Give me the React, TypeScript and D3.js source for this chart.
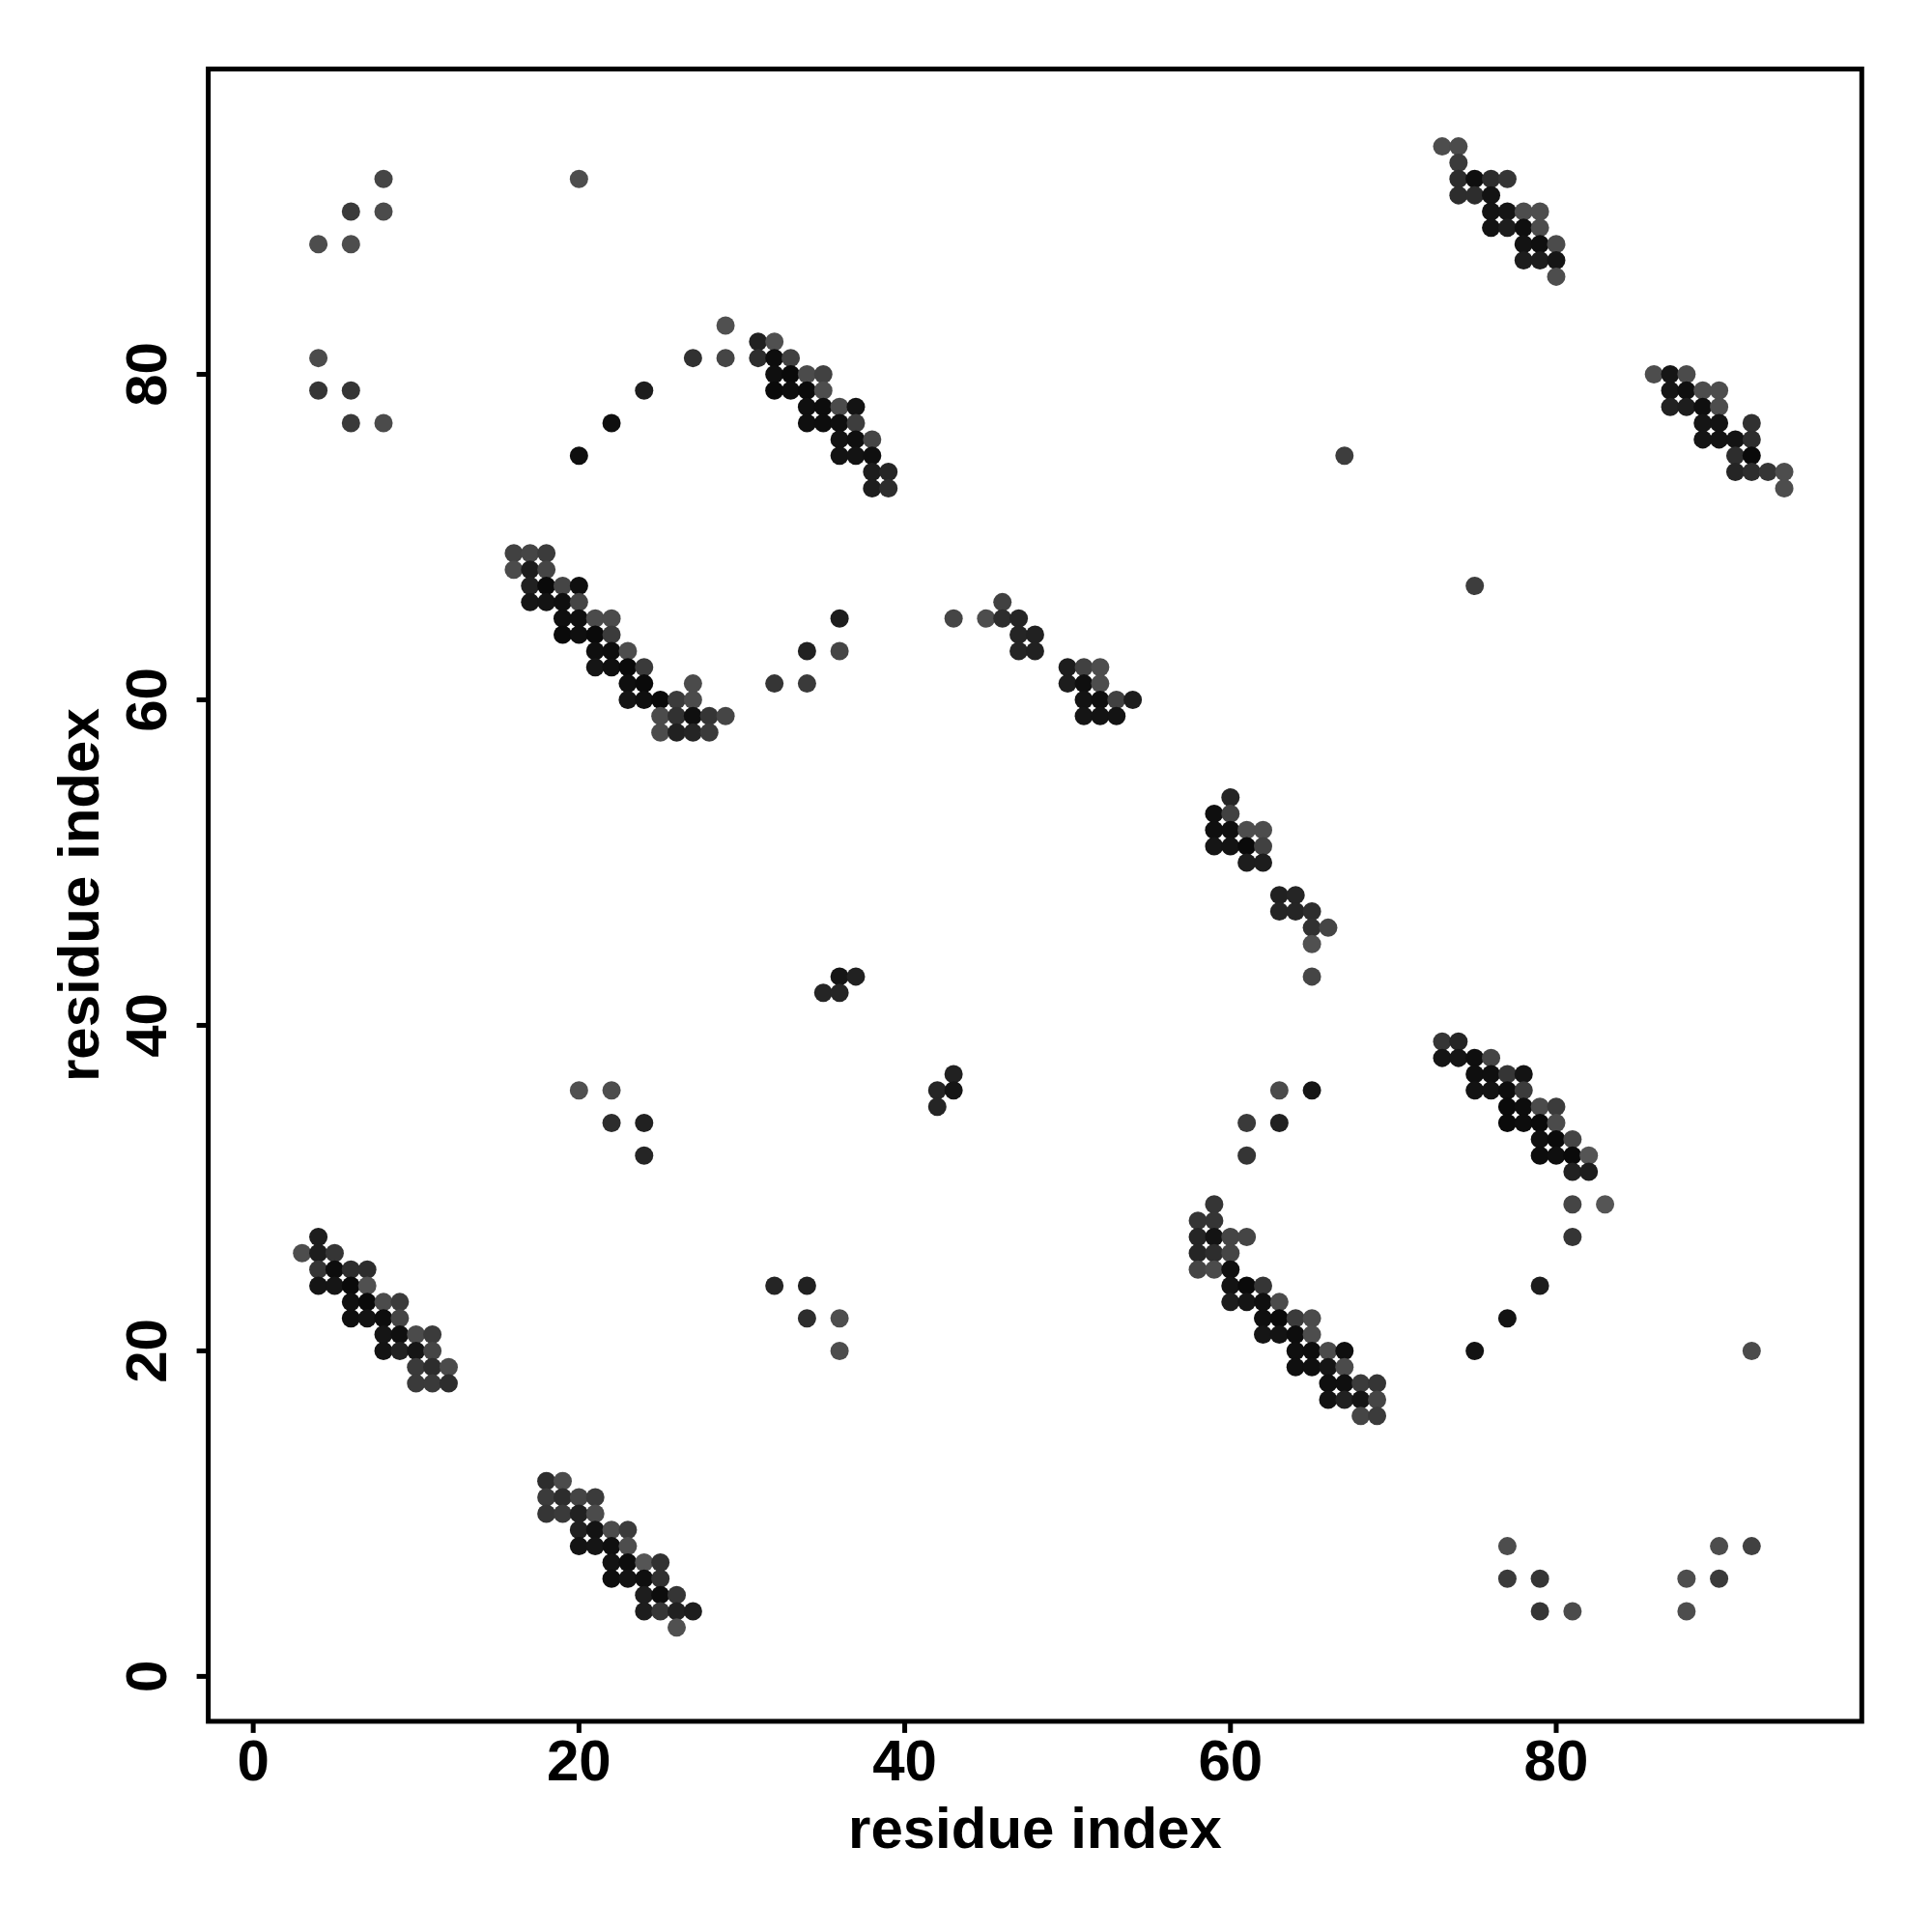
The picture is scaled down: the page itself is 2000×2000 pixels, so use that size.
import React from "react";
import * as d3 from "d3";

type Pt = [number, number, number]; // [residue i, residue j, contact strength 0..1]

const xTicks = [0, 20, 40, 60, 80];
const yTicks = [0, 20, 40, 60, 80];
const xLabel = "residue index";
const yLabel = "residue index";

const sparseTopLeft: Pt[] = [
  [8, 92, 0.2], [6, 90, 0.34], [8, 90, 0.13], [4, 88, 0.1], [6, 88, 0.1], [20, 92, 0.1],
  [4, 81, 0.13], [4, 79, 0.4], [6, 79, 0.4], [6, 77, 0.34], [8, 77, 0.13],
  [24, 79, 0.7], [22, 77, 0.88], [20, 75, 0.88], [29, 83, 0.06], [27, 81, 0.45], [29, 81, 0.2],
];

const clusterB: Pt[] = [
  [31, 82, 0.65], [32, 82, 0.06],
  [31, 81, 0.5], [32, 81, 0.9], [33, 81, 0.25],
  [32, 80, 0.88], [33, 80, 0.94], [34, 80, 0.13], [35, 80, 0.25],
  [32, 79, 0.94], [33, 79, 0.9], [34, 79, 0.94], [35, 79, 0.1],
  [34, 78, 0.88], [35, 78, 0.9], [36, 78, 0.13], [37, 78, 0.82],
  [34, 77, 0.88], [35, 77, 0.9], [36, 77, 0.88], [37, 77, 0.3],
  [36, 76, 0.82], [37, 76, 0.88], [38, 76, 0.2],
  [36, 75, 0.82], [37, 75, 0.82], [38, 75, 0.88],
  [38, 74, 0.7], [39, 74, 0.6],
  [38, 73, 0.7], [39, 73, 0.5],
];

const clusterC: Pt[] = [
  [16, 69, 0.25], [17, 69, 0.2], [18, 69, 0.32],
  [16, 68, 0.13], [17, 68, 0.7], [18, 68, 0.2],
  [17, 67, 0.65], [18, 67, 0.94], [19, 67, 0.2], [20, 67, 0.88],
  [17, 66, 0.8], [18, 66, 0.82], [19, 66, 0.88], [20, 66, 0.2],
  [19, 65, 0.88], [20, 65, 0.88], [21, 65, 0.13], [22, 65, 0.13],
  [19, 64, 0.94], [20, 64, 0.88], [21, 64, 0.94], [22, 64, 0.32],
  [21, 63, 0.88], [22, 63, 0.9], [23, 63, 0.1],
  [21, 62, 0.8], [22, 62, 0.88], [23, 62, 0.94], [24, 62, 0.34],
  [23, 61, 0.88], [24, 61, 0.94], [27, 61, 0.13],
  [23, 60, 0.8], [24, 60, 0.88], [25, 60, 0.94], [26, 60, 0.32], [27, 60, 0.13],
  [25, 59, 0.13], [26, 59, 0.45], [27, 59, 0.88], [28, 59, 0.4], [29, 59, 0.2],
  [25, 58, 0.13], [26, 58, 0.65], [27, 58, 0.6], [28, 58, 0.34],
];

const sparseC2: Pt[] = [
  [36, 65, 0.7], [34, 63, 0.65], [36, 63, 0.2], [32, 61, 0.4], [34, 61, 0.34],
];

const clusterD: Pt[] = [
  [43, 65, 0.2], [45, 65, 0.1], [46, 66, 0.25], [46, 65, 0.5], [47, 65, 0.6],
  [47, 64, 0.6], [48, 64, 0.65], [47, 63, 0.6], [48, 63, 0.65],
  [50, 62, 0.7], [51, 62, 0.25], [52, 62, 0.1],
  [50, 61, 0.7], [51, 61, 0.88], [52, 61, 0.1],
  [51, 60, 0.82], [52, 60, 0.88], [53, 60, 0.25], [54, 60, 0.7],
  [51, 59, 0.8], [52, 59, 0.82], [53, 59, 0.82],
];

const clusterE: Pt[] = [
  [73, 94, 0.1], [74, 94, 0.13], [74, 93, 0.32],
  [74, 92, 0.5], [75, 92, 0.88], [76, 92, 0.5], [77, 92, 0.4],
  [74, 91, 0.5], [75, 91, 0.5], [76, 91, 0.82],
  [76, 90, 0.82], [77, 90, 0.8], [78, 90, 0.1], [79, 90, 0.1],
  [76, 89, 0.82], [77, 89, 0.7], [78, 89, 0.88], [79, 89, 0.1],
  [78, 88, 0.82], [79, 88, 0.88], [80, 88, 0.13],
  [78, 87, 0.7], [79, 87, 0.7], [80, 87, 0.8],
  [80, 86, 0.1],
];

const clusterF: Pt[] = [
  [86, 80, 0.1], [87, 80, 0.8], [88, 80, 0.13],
  [87, 79, 0.8], [88, 79, 0.88], [89, 79, 0.1], [90, 79, 0.1],
  [87, 78, 0.65], [88, 78, 0.7], [89, 78, 0.88], [90, 78, 0.1],
  [89, 77, 0.8], [90, 77, 0.82], [92, 77, 0.45],
  [89, 76, 0.8], [90, 76, 0.82], [91, 76, 0.82], [92, 76, 0.5],
  [91, 75, 0.5], [92, 75, 0.94],
  [91, 74, 0.6], [92, 74, 0.5], [93, 74, 0.4], [94, 74, 0.1],
  [94, 73, 0.1],
  [67, 75, 0.3], [75, 67, 0.3],
];

const clusterG: Pt[] = [
  [60, 54, 0.6], [59, 53, 0.88], [60, 53, 0.25],
  [59, 52, 0.88], [60, 52, 0.88], [61, 52, 0.1], [62, 52, 0.1],
  [59, 51, 0.8], [60, 51, 0.82], [61, 51, 0.94], [62, 51, 0.25],
  [61, 50, 0.7], [62, 50, 0.7],
  [63, 48, 0.65], [64, 48, 0.6], [63, 47, 0.6], [64, 47, 0.6], [65, 47, 0.5],
  [65, 46, 0.45], [66, 46, 0.2], [65, 45, 0.06], [65, 43, 0.2],
];

const clusterH: Pt[] = [
  [36, 43, 0.8], [37, 43, 0.65], [35, 42, 0.6], [36, 42, 0.6],
  [43, 37, 0.65], [42, 36, 0.6], [43, 36, 0.8], [42, 35, 0.6],
];

const clusterI: Pt[] = [
  [20, 36, 0.06], [22, 36, 0.1], [22, 34, 0.5], [24, 34, 0.65], [24, 32, 0.6],
  [32, 24, 0.6], [34, 24, 0.65], [34, 22, 0.5], [36, 22, 0.1], [36, 20, 0.1],
];

const clusterJ: Pt[] = [
  [4, 27, 0.7], [3, 26, 0.1], [4, 26, 0.7], [5, 26, 0.4],
  [4, 25, 0.4], [5, 25, 0.9], [6, 25, 0.5], [7, 25, 0.5],
  [4, 24, 0.8], [5, 24, 0.8], [6, 24, 0.94], [7, 24, 0.06],
  [6, 23, 0.88], [7, 23, 0.94], [8, 23, 0.13], [9, 23, 0.32],
  [6, 22, 0.88], [7, 22, 0.82], [8, 22, 0.9], [9, 22, 0.2],
  [8, 21, 0.8], [9, 21, 0.88], [10, 21, 0.13], [11, 21, 0.32],
  [8, 20, 0.82], [9, 20, 0.65], [10, 20, 0.8], [11, 20, 0.2],
  [10, 19, 0.34], [11, 19, 0.5], [12, 19, 0.13],
  [10, 18, 0.34], [11, 18, 0.34], [12, 18, 0.5],
];

const clusterK: Pt[] = [
  [18, 12, 0.5], [19, 12, 0.13],
  [18, 11, 0.32], [19, 11, 0.5], [20, 11, 0.2], [21, 11, 0.32],
  [18, 10, 0.4], [19, 10, 0.34], [20, 10, 0.65], [21, 10, 0.13],
  [20, 9, 0.65], [21, 9, 0.82], [22, 9, 0.13], [23, 9, 0.32],
  [20, 8, 0.82], [21, 8, 0.8], [22, 8, 0.88], [23, 8, 0.1],
  [22, 7, 0.82], [23, 7, 0.9], [24, 7, 0.0], [25, 7, 0.45],
  [22, 6, 0.9], [23, 6, 0.82], [24, 6, 0.88], [25, 6, 0.45],
  [24, 5, 0.7], [25, 5, 0.9], [26, 5, 0.4],
  [24, 4, 0.7], [25, 4, 0.4], [26, 4, 0.65], [27, 4, 0.7],
  [26, 3, 0.06],
];

const sparseL2: Pt[] = [
  [63, 36, 0.13], [65, 36, 0.8], [61, 34, 0.34], [63, 34, 0.65], [61, 32, 0.4],
];

const clusterL: Pt[] = [
  [59, 29, 0.4], [58, 28, 0.4], [59, 28, 0.4],
  [58, 27, 0.6], [59, 27, 0.82], [60, 27, 0.2], [61, 27, 0.2],
  [58, 26, 0.6], [59, 26, 0.5], [60, 26, 0.2],
  [58, 25, 0.2], [59, 25, 0.13], [60, 25, 0.88],
  [60, 24, 0.82], [61, 24, 0.94], [62, 24, 0.4],
  [60, 23, 0.7], [61, 23, 0.8], [62, 23, 0.88], [63, 23, 0.13],
  [62, 22, 0.88], [63, 22, 0.94], [64, 22, 0.32], [65, 22, 0.13],
  [62, 21, 0.8], [63, 21, 0.82], [64, 21, 0.9], [65, 21, 0.1],
  [64, 20, 0.88], [65, 20, 0.9], [66, 20, 0.13], [67, 20, 0.88],
  [64, 19, 0.88], [65, 19, 0.88], [66, 19, 0.8], [67, 19, 0.13],
  [66, 18, 0.88], [67, 18, 0.88], [68, 18, 0.32], [69, 18, 0.4],
  [66, 17, 0.82], [67, 17, 0.65], [68, 17, 0.8], [69, 17, 0.2],
  [68, 16, 0.2], [69, 16, 0.32],
];

const clusterM: Pt[] = [
  [73, 39, 0.4], [74, 39, 0.6],
  [73, 38, 0.8], [74, 38, 0.8], [75, 38, 0.88], [76, 38, 0.2],
  [75, 37, 0.88], [76, 37, 0.88], [77, 37, 0.4], [78, 37, 0.82],
  [75, 36, 0.82], [76, 36, 0.82], [77, 36, 0.9], [78, 36, 0.32],
  [77, 35, 0.94], [78, 35, 0.9], [79, 35, 0.13], [80, 35, 0.32],
  [77, 34, 0.94], [78, 34, 0.9], [79, 34, 0.94], [80, 34, 0.13],
  [79, 33, 0.88], [80, 33, 0.94], [81, 33, 0.2],
  [79, 32, 0.9], [80, 32, 0.88], [81, 32, 0.94], [82, 32, 0.0],
  [81, 31, 0.65], [82, 31, 0.7],
  [81, 29, 0.2], [83, 29, 0.0], [81, 27, 0.4],
  [79, 24, 0.7], [77, 22, 0.82], [75, 20, 0.82],
];

const clusterN: Pt[] = [
  [92, 20, 0.13], [77, 8, 0.1], [77, 6, 0.34], [79, 6, 0.4], [79, 4, 0.4], [81, 4, 0.13],
  [90, 8, 0.1], [92, 8, 0.25], [88, 6, 0.1], [90, 6, 0.34], [88, 4, 0.1],
];

const allContacts: Pt[] = [
  ...sparseTopLeft, ...clusterB, ...clusterC, ...sparseC2, ...clusterD, ...clusterE,
  ...clusterF, ...clusterG, ...clusterH, ...clusterI, ...clusterJ, ...clusterK,
  ...sparseL2, ...clusterL, ...clusterM, ...clusterN,
];

export default function App() {
  const W = 2000, H = 2000;
  const left = 215.6, right = 1927.3, top = 71.4, bottom = 1781.9;
  const domain: [number, number] = [-2.76, 98.76];
  const x = d3.scaleLinear().domain(domain).range([left, right]);
  const y = d3.scaleLinear().domain(domain).range([bottom, top]);
  const color = d3.scaleLinear<string>().domain([0, 1]).range(["#555555", "#050505"]).clamp(true);
  const font = "'Nimbus Sans', 'Liberation Sans', Arial, Helvetica, sans-serif";
  const fs = 60;
  const tickLen = 12;
  const sw = 5;

  return (
    <svg
      width={W}
      height={H}
      viewBox={`0 0 ${W} ${H}`}
      style={{ position: "absolute", left: 0, top: 0, background: "#fff" }}
    >
      <rect x={0} y={0} width={W} height={H} fill="#fff" />
      <g>
        {allContacts.map((d, i) => (
          <circle key={i} cx={x(d[0])} cy={y(d[1])} r={9.5} fill={color(d[2])} />
        ))}
      </g>
      <rect x={left} y={top} width={right - left} height={bottom - top} fill="none" stroke="#000" strokeWidth={sw} />
      <g>
        {xTicks.map((t) => (
          <g key={`x${t}`}>
            <line x1={x(t)} x2={x(t)} y1={bottom} y2={bottom + tickLen} stroke="#000" strokeWidth={sw} />
            <text
              x={x(t)}
              y={1821}
              dy="0.36em"
              textAnchor="middle"
              fontFamily={font}
              fontWeight="bold"
              fontSize={fs}
            >
              {t}
            </text>
          </g>
        ))}
        {yTicks.map((t) => (
          <g key={`y${t}`}>
            <line x1={left - tickLen} x2={left} y1={y(t)} y2={y(t)} stroke="#000" strokeWidth={sw} />
            <text
              transform={`translate(150,${y(t)}) rotate(-90)`}
              dy="0.36em"
              textAnchor="middle"
              fontFamily={font}
              fontWeight="bold"
              fontSize={fs}
            >
              {t}
            </text>
          </g>
        ))}
      </g>
      <text
        x={(left + right) / 2}
        y={1891}
        dy="0.36em"
        textAnchor="middle"
        fontFamily={font}
        fontWeight="bold"
        fontSize={fs}
      >
        {xLabel}
      </text>
      <text
        transform={`translate(80,${(top + bottom) / 2}) rotate(-90)`}
        dy="0.36em"
        textAnchor="middle"
        fontFamily={font}
        fontWeight="bold"
        fontSize={fs}
      >
        {yLabel}
      </text>
    </svg>
  );
}
